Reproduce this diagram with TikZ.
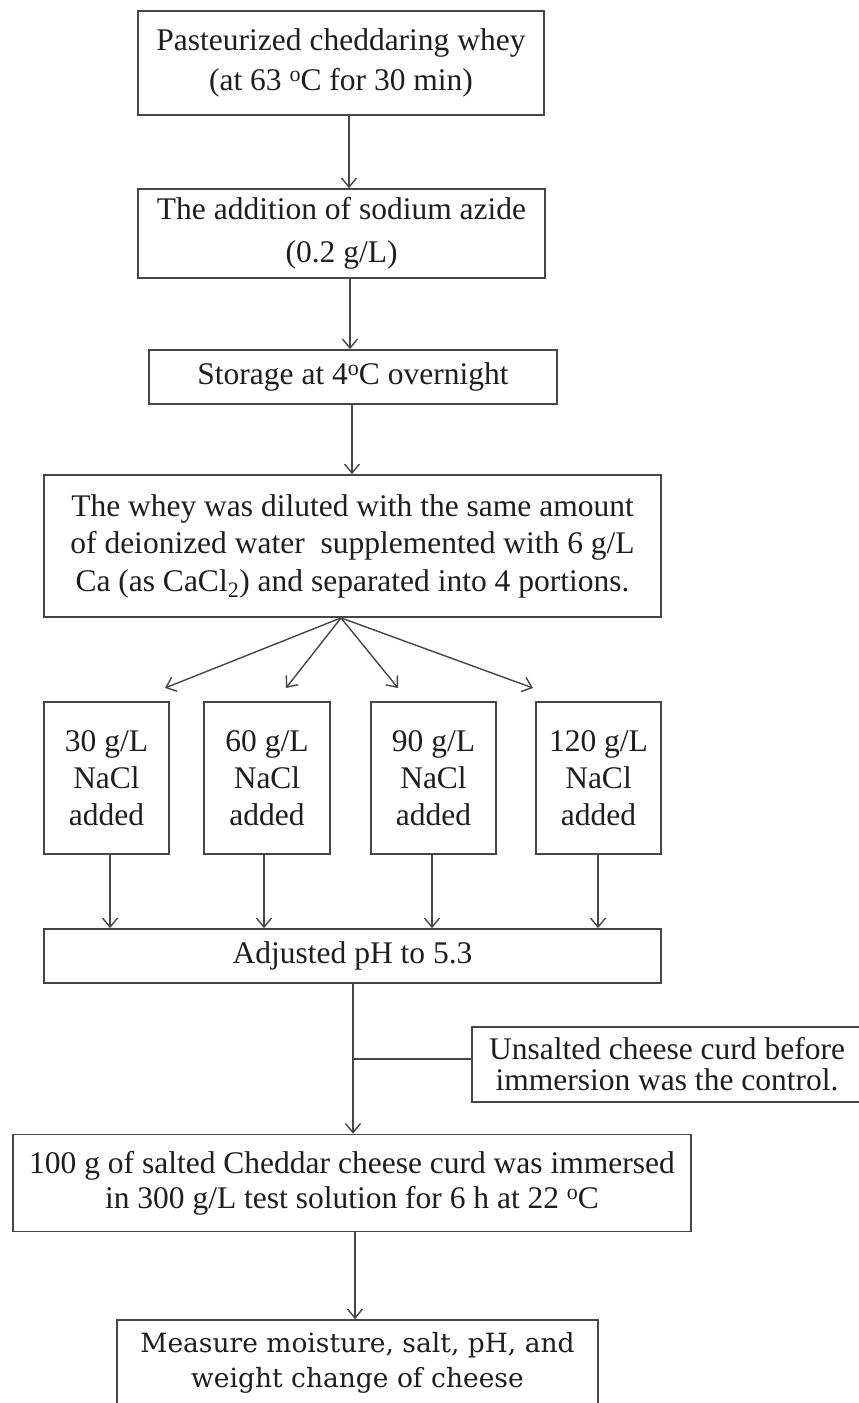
\documentclass[tikz,border=0pt]{standalone}
\usepackage{fontspec}
\setmainfont{Liberation Serif}
\newfontfamily\measfont{DejaVu Serif}
\usetikzlibrary{arrows.meta}
\definecolor{linegray}{RGB}{70,70,70}
\definecolor{textblack}{RGB}{30,30,30}
\newcommand{\dego}{\raisebox{0.62ex}{\fontsize{22}{22}\selectfont o}}
\begin{document}
\begin{tikzpicture}[x=1pt,y=-1pt,
  box/.style={draw=linegray, line width=1.8pt, fill=white, inner sep=0pt,
    align=center, text=textblack, font=\fontsize{31.5}{40}\selectfont},
  arr/.style={draw=linegray, line width=1.4pt,
    -{Straight Barb[length=9pt,width=15pt,line width=1.4pt]}},
  ln/.style={draw=linegray, line width=1.4pt}]
\useasboundingbox (0,0) rectangle (859,1403);
\fill[white] (0,0) rectangle (859,1403);
\clip (0,0) rectangle (859,1403);

% boxes
\node[box, minimum width=406pt, minimum height=104pt] (b1) at (341,63)
  {Pasteurized cheddaring whey\\(at 63 \dego C for 30 min)};
\node[box, minimum width=407pt, minimum height=89pt,
  font=\fontsize{31.5}{43}\selectfont] (b2) at (341.5,233.5)
  {The addition of sodium azide\\(0.2 g/L)};
\node[box, minimum width=408pt, minimum height=54pt] (b3) at (353,377)
  {Storage at 4\dego C overnight};
\node[box, minimum width=617pt, minimum height=142pt,
  font=\fontsize{31.5}{37.5}\selectfont] (b4) at (352.5,546)
  {The whey was diluted with the same amount\\
   of deionized water\ \ supplemented with 6 g/L\\
   Ca (as CaCl\textsubscript{2}) and separated into 4 portions.};
\node[box, minimum width=125pt, minimum height=152pt,
  font=\fontsize{31.5}{37}\selectfont] (n1) at (106.5,778) {30 g/L\\NaCl\\added};
\node[box, minimum width=126pt, minimum height=152pt,
  font=\fontsize{31.5}{37}\selectfont] (n2) at (267,778) {60 g/L\\NaCl\\added};
\node[box, minimum width=125pt, minimum height=152pt,
  font=\fontsize{31.5}{37}\selectfont] (n3) at (433.5,778) {90 g/L\\NaCl\\added};
\node[box, minimum width=125pt, minimum height=152pt,
  font=\fontsize{31.5}{37}\selectfont] (n4) at (598.5,778) {120 g/L\\NaCl\\added};
\node[box, minimum width=617pt, minimum height=54pt] (b5) at (352.5,956)
  {Adjusted pH to 5.3};
\node[box, minimum width=390pt, minimum height=75pt,
  font=\fontsize{31.5}{31}\selectfont] (ctrl) at (667,1064.5)
  {Unsalted cheese curd before\\immersion was the control.};
\node[box, minimum width=678pt, minimum height=97pt,
  font=\fontsize{31.5}{35}\selectfont] (b7) at (352,1183)
  {100 g of salted Cheddar cheese curd was immersed\\
   in 300 g/L test solution for 6 h at 22 \dego C};
\node[box, minimum width=481pt, minimum height=85pt,
  font=\measfont\fontsize{26.5}{35}\selectfont] (b8) at (357.5,1362.5)
  {Measure moisture, salt, pH, and\\weight change of cheese};

% helper coordinates
\coordinate (x110) at (110,0);
\coordinate (x264) at (264,0);
\coordinate (x341) at (341,0);
\coordinate (x349) at (349,0);
\coordinate (x350) at (350,0);
\coordinate (x352) at (352,0);
\coordinate (x353) at (353,0);
\coordinate (x355) at (355,0);
\coordinate (x432) at (432,0);
\coordinate (x598) at (598,0);
\coordinate (t1) at (165,688);
\coordinate (t2) at (286,688);
\coordinate (t3) at (398,688);
\coordinate (t4) at (533,688);
\coordinate (j) at (353,1059);

% connectors
\draw[arr] (b1.south -| x349) -- (b2.north -| x349);
\draw[arr] (b2.south -| x350) -- (b3.north -| x350);
\draw[arr] (b3.south -| x352) -- (b4.north -| x352);
\draw[arr] (b4.south -| x341) -- (t1);
\draw[arr] (b4.south -| x341) -- (t2);
\draw[arr] (b4.south -| x341) -- (t3);
\draw[arr] (b4.south -| x341) -- (t4);
\draw[arr] (n1.south -| x110) -- (b5.north -| x110);
\draw[arr] (n2.south -| x264) -- (b5.north -| x264);
\draw[arr] (n3.south -| x432) -- (b5.north -| x432);
\draw[arr] (n4.south -| x598) -- (b5.north -| x598);
\draw[arr] (b5.south -| x353) -- (b7.north -| x353);
\draw[ln] (j) -- (j -| ctrl.west);
\draw[arr] (b7.south -| x355) -- (b8.north -| x355);
\end{tikzpicture}
\end{document}
